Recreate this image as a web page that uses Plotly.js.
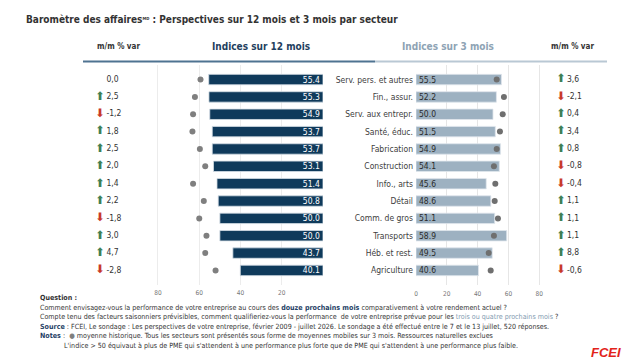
<!DOCTYPE html>
<html>
<head>
<meta charset="utf-8">
<script src="https://cdn.plot.ly/plotly-3.0.1.min.js"></script>
<style>
  html, body { margin: 0; padding: 0; background: #ffffff; }
  #chart { width: 635px; height: 362px; }
</style>
</head>
<body>
<div id="chart"></div>
<script>
// Sectors, top to bottom
const sectors = [
  "Serv. pers. et autres", "Fin., assur.", "Serv. aux entrepr.", "Santé, éduc.",
  "Fabrication", "Construction", "Info., arts", "Détail",
  "Comm. de gros", "Transports", "Héb. et rest.", "Agriculture"
];

// 12-month outlook index, historical average and month-over-month change
const index12 = [55.4, 55.3, 54.9, 53.7, 53.7, 53.1, 51.4, 50.8, 50.0, 50.0, 43.7, 40.1];
const avg12   = [59.4, 62.1, 63.0, 63.3, 59.7, 57.1, 63.0, 57.8, 60.0, 56.5, 57.1, 52.1];
const mm12    = [0.0, 2.5, -1.2, 1.8, 2.5, 2.0, 1.4, 2.2, -1.8, 3.0, 4.7, -2.8];

// 3-month outlook index, historical average and month-over-month change
const index3 = [55.5, 52.2, 50.0, 51.5, 54.9, 54.1, 45.6, 48.6, 51.1, 58.9, 49.5, 40.6];
const avg3   = [52.4, 57.1, 56.3, 54.5, 52.4, 50.6, 51.5, 51.1, 53.2, 50.6, 47.2, 48.5];
const mm3    = [3.6, -2.1, 0.4, 3.4, 0.8, -0.8, -0.4, 1.1, 1.1, 1.1, 8.8, -0.6];

const indexTicks = [20, 40, 60, 80];
const indexTicks3 = [0, 20, 40, 60, 80];

const W = 635, H = 362;
const px = v => v / W;          // horizontal pixel -> paper
const py = v => 1 - v / H;      // vertical pixel -> paper

const FONT = "DejaVu Sans Condensed, DejaVu Sans, sans-serif";
const NAVY = "#0f3a5b";
const STEEL = "#9db1c1";
const UP = "#3e7f55";
const DOWN = "#c8392b";

const fmtComma = v => v.toFixed(1).replace(".", ",");
const arrow = v => v > 0 ? "⬆" : (v < 0 ? "⬇" : " ");
const arrowColor = v => v > 0 ? UP : DOWN;

const traces = [
  // 12-month bars (reversed axis, growing to the left)
  {
    type: "bar", orientation: "h", x: index12, y: sectors, xaxis: "x", yaxis: "y",
    marker: { color: NAVY, line: { color: "#d5dee6", width: 0.8 } },
    text: index12.map(v => v.toFixed(1)), textposition: "inside", insidetextanchor: "start",
    textfont: { family: FONT, size: 8.5, color: "#ffffff" }, constraintext: "none",
    hoverinfo: "skip"
  },
  {
    type: "scatter", mode: "markers", x: avg12, y: sectors, xaxis: "x", yaxis: "y",
    marker: { color: "#7f7f7f", size: 6 }, hoverinfo: "skip"
  },
  // 3-month bars
  {
    type: "bar", orientation: "h", x: index3, y: sectors, xaxis: "x2", yaxis: "y",
    marker: { color: STEEL, line: { color: "#dfe6ec", width: 0.8 } },
    text: index3.map(v => v.toFixed(1)), textposition: "inside", insidetextanchor: "start",
    textfont: { family: FONT, size: 8.5, color: "#2b2b2b" }, constraintext: "none",
    hoverinfo: "skip"
  },
  {
    type: "scatter", mode: "markers", x: avg3, y: sectors, xaxis: "x2", yaxis: "y",
    marker: { color: "#6f6f6f", size: 6 }, hoverinfo: "skip"
  },
  // m/m columns: arrows and values
  {
    type: "scatter", mode: "text", x: sectors.map(() => 100), y: sectors, xaxis: "x3", yaxis: "y",
    text: mm12.map(arrow), textposition: "middle center",
    textfont: { family: "DejaVu Sans", size: 11.5, color: mm12.map(arrowColor) }, hoverinfo: "skip"
  },
  {
    type: "scatter", mode: "text", x: sectors.map(() => 106.5), y: sectors, xaxis: "x3", yaxis: "y",
    text: mm12.map(fmtComma), textposition: "middle right",
    textfont: { family: FONT, size: 8.5, color: "#333333" }, hoverinfo: "skip"
  },
  {
    type: "scatter", mode: "text", x: sectors.map(() => 561), y: sectors, xaxis: "x3", yaxis: "y",
    text: mm3.map(arrow), textposition: "middle center",
    textfont: { family: "DejaVu Sans", size: 11.5, color: mm3.map(arrowColor) }, hoverinfo: "skip"
  },
  {
    type: "scatter", mode: "text", x: sectors.map(() => 567), y: sectors, xaxis: "x3", yaxis: "y",
    text: mm3.map(fmtComma), textposition: "middle right",
    textfont: { family: FONT, size: 8.5, color: "#333333" }, hoverinfo: "skip"
  }
];

const ax12Left = 323 - 81 * 2.0625;
const footer = [
  { y: 297, x: 38, t: "<b>Question :</b>" },
  { y: 307, x: 38, t: "Comment envisagez-vous la performance de votre entreprise au cours des <b><span style=\"color:#1f3f66\">douze prochains mois</span></b> comparativement à votre rendement actuel ?" },
  { y: 316.5, x: 38, t: "Compte tenu des facteurs saisonniers prévisibles, comment qualifieriez-vous la performance  de votre entreprise prévue pour les <span style=\"color:#7f9ab0\">trois ou quatre prochains mois</span> ?" },
  { y: 326, x: 38, t: "<b><span style=\"color:#1f3f66\">Source</span></b> : FCEI, Le sondage : Les perspectives de votre entreprise, février 2009 - juillet 2026. Le sondage a été effectué entre le 7 et le 13 juillet, 520 réponses." },
  { y: 335.5, x: 38, t: "<b><span style=\"color:#1f3f66\">Notes</span></b> :  <span style=\"color:#7f7f7f\">●</span> moyenne historique. Tous les secteurs sont présentés sous forme de moyennes mobiles sur 3 mois. Ressources naturelles exclues" },
  { y: 345, x: 62, t: "L'indice > 50 équivaut à plus de PME qui s'attendent à une performance plus forte que de PME qui s'attendent à une performance plus faible." }
];

const annotations = [
  { x: px(24), y: py(19), xref: "paper", yref: "paper", xanchor: "left", yanchor: "middle", showarrow: false,
    text: "<b>Baromètre des affaires<span style=\"font-size:6px\"><sup>MD</sup></span> : Perspectives sur 12 mois et 3 mois par secteur</b>",
    font: { family: FONT, size: 10, color: "#333333" } },
  { x: px(118), y: py(47), xref: "paper", yref: "paper", xanchor: "center", yanchor: "middle", showarrow: false,
    text: "<b>m/m % var</b>", font: { family: FONT, size: 8, color: "#333333" } },
  { x: px(572), y: py(47), xref: "paper", yref: "paper", xanchor: "center", yanchor: "middle", showarrow: false,
    text: "<b>m/m % var</b>", font: { family: FONT, size: 8, color: "#333333" } },
  { x: px(261), y: py(47), xref: "paper", yref: "paper", xanchor: "center", yanchor: "middle", showarrow: false,
    text: "<b>Indices sur 12 mois</b>", font: { family: FONT, size: 10, color: "#1f3f5e" } },
  { x: px(448), y: py(47), xref: "paper", yref: "paper", xanchor: "center", yanchor: "middle", showarrow: false,
    text: "<b>Indices sur 3 mois</b>", font: { family: FONT, size: 10, color: "#8ea3b4" } },
  { x: px(606), y: py(352), xref: "paper", yref: "paper", xanchor: "center", yanchor: "middle", showarrow: false,
    text: "<b><i>FCEI</i></b>", font: { family: "Liberation Sans, sans-serif", size: 13, color: "#e2231a" } }
].concat(footer.map(f => ({
  x: px(f.x), y: py(f.y), xref: "paper", yref: "paper", xanchor: "left", yanchor: "middle", showarrow: false,
  text: f.t, font: { family: FONT, size: 7.1, color: "#333333" }
})));

const layout = {
  width: W, height: H,
  margin: { l: 0, r: 0, t: 0, b: 0 },
  paper_bgcolor: "#ffffff", plot_bgcolor: "rgba(0,0,0,0)",
  showlegend: false,
  bargap: 0.4,
  xaxis: {
    domain: [px(ax12Left), px(323)], range: [81, 0], anchor: "y",
    tickvals: indexTicks, showgrid: true, gridcolor: "#ececec", gridwidth: 1,
    zeroline: false, showline: false, ticks: "", ticklabelstandoff: 2,
    tickfont: { family: FONT, size: 6.5, color: "#777777" }, fixedrange: true
  },
  xaxis2: {
    domain: [px(416), px(416 + 81 * 1.54)], range: [0, 81], anchor: "y",
    tickvals: indexTicks3, showgrid: true, gridcolor: "#e6e6e6", gridwidth: 1,
    zeroline: false, showline: false, ticks: "", ticklabelstandoff: 3,
    tickfont: { family: FONT, size: 6.5, color: "#777777" }, fixedrange: true
  },
  // pixel-scaled helper axis for the m/m columns
  xaxis3: {
    domain: [0, 1], range: [0, W], anchor: "y",
    visible: false, fixedrange: true
  },
  yaxis: {
    domain: [py(285.2), py(64.8)], type: "category", autorange: "reversed",
    anchor: "x2", showgrid: false, zeroline: false, showline: false, ticks: "",
    ticklabelstandoff: 2,
    tickfont: { family: FONT, size: 8.5, color: "#404040" }, fixedrange: true
  },
  shapes: [
    { type: "line", xref: "paper", yref: "paper", x0: px(83), x1: px(375), y0: py(61.5), y1: py(61.5),
      line: { color: "#4f7391", width: 2 } },
    { type: "line", xref: "paper", yref: "paper", x0: px(375), x1: px(607), y0: py(61.5), y1: py(61.5),
      line: { color: "#b9c8d4", width: 2 } }
  ],
  annotations: annotations
};

Plotly.newPlot("chart", traces, layout, { displayModeBar: false, staticPlot: true });
</script>
</body>
</html>
